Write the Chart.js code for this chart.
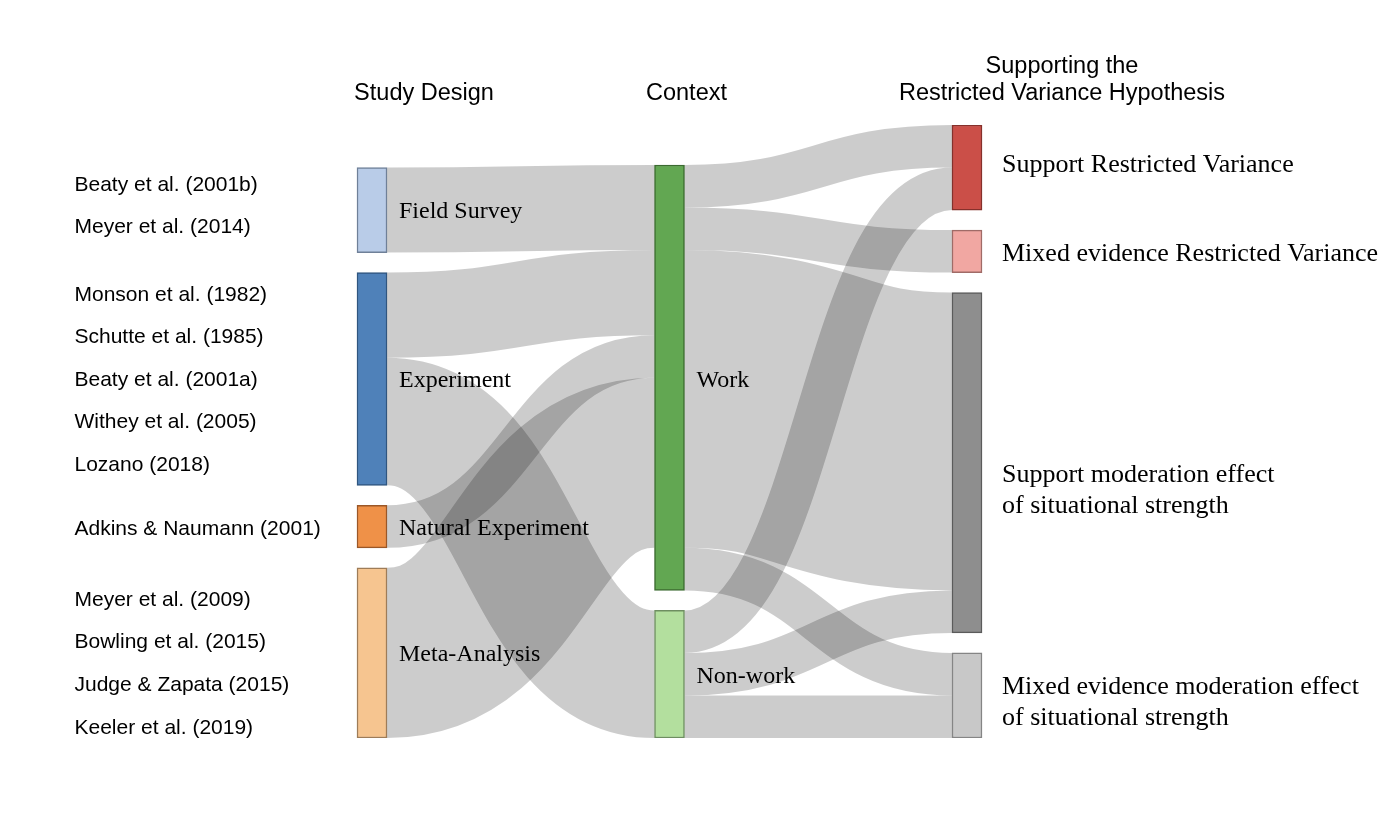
<!DOCTYPE html>
<html>
<head>
<meta charset="utf-8">
<script src="https://cdn.jsdelivr.net/npm/chart.js@4"></script>
<style>
  html, body { margin: 0; padding: 0; background: #fff; }
  canvas { display: block; }
</style>
</head>
<body>
<canvas id="sankey" width="1394" height="820"></canvas>
<script>
// column titles
const columnTitles = [["Study Design"], ["Context"], ["Supporting the", "Restricted Variance Hypothesis"]];

// nodes of each column, top to bottom
const designs = ["Field Survey", "Experiment", "Natural Experiment", "Meta-Analysis"];
const contexts = ["Work", "Non-work"];
const outcomes = [
  ["Support Restricted Variance"],
  ["Mixed evidence Restricted Variance"],
  ["Support moderation effect", "of situational strength"],
  ["Mixed evidence moderation effect", "of situational strength"]
];

// flows design -> context (rows = designs, cols = contexts)
const designToContext = [[2, 0], [2, 3], [1, 0], [4, 0]];
// flows context -> outcome (rows = contexts, cols = outcomes)
const contextToOutcome = [[1, 1, 7, 1], [1, 0, 1, 1]];

// studies listed beside each study design
const studies = [
  ["Beaty et al. (2001b)", "Meyer et al. (2014)"],
  ["Monson et al. (1982)", "Schutte et al. (1985)", "Beaty et al. (2001a)", "Withey et al. (2005)", "Lozano (2018)"],
  ["Adkins & Naumann (2001)"],
  ["Meyer et al. (2009)", "Bowling et al. (2015)", "Judge & Zapata (2015)", "Keeler et al. (2019)"]
];

// ---- styling ----
const nodeFill = [
  ["#b9cce8", "#4f81b9", "#ef9148", "#f6c590"],
  ["#62a752", "#b3df9e"],
  ["#cb4f48", "#f1a7a2", "#8e8e8e", "#c8c8c8"]
];
const nodeBorder = [
  ["#6f8098", "#2f557f", "#9b5727", "#9e7c58"],
  ["#3c6b31", "#6e8e61"],
  ["#86302b", "#a06b67", "#5b5b5b", "#858585"]
];
const NODE_W = 30;
const GAP = 0.47;            // vertical gap between nodes, in study units
const SERIF = '"Times New Roman", "Liberation Serif", serif';
const SANS = 'Arial, "Liberation Sans", sans-serif';
const labelSize = [24, 24, 26];
const labelShift = [[2, 2, 2, 2], [3, 3], [-2, 3, 28, 7]];
const studyShift = [-4, 1, 3, 11];
const titleShift = [52, 17, 95];

// ---- layout (in data units) ----
const columns = [designs, contexts, outcomes];
const flows = [designToContext, contextToOutcome];

const inSum = columns.map(c => c.map(() => 0));
const outSum = columns.map(c => c.map(() => 0));
flows.forEach((m, c) => {
  m.forEach((row, i) => row.forEach((v, j) => {
    outSum[c][i] += v;
    inSum[c + 1][j] += v;
  }));
});
const nodeVal = columns.map((c, ci) => c.map((_, i) => Math.max(inSum[ci][i], outSum[ci][i])));
const colHeight = nodeVal.map(vals => vals.reduce((a, b) => a + b, 0) + GAP * (vals.length - 1));
const yMax = Math.max(...colHeight);

// stack from the bottom, first node on top
const nodeTop = nodeVal.map((vals, ci) => {
  let top = colHeight[ci];
  return vals.map(v => { const t = top; top -= v + GAP; return t; });
});

const nodeData = [];
const fills = [];
const borders = [];
columns.forEach((col, ci) => col.forEach((_, i) => {
  nodeData.push({ x: ci, y: [nodeTop[ci][i] - nodeVal[ci][i], nodeTop[ci][i]] });
  fills.push(nodeFill[ci][i]);
  borders.push(nodeBorder[ci][i]);
}));

// links: ordered by target at the source, by source at the target
const links = [];
flows.forEach((m, c) => {
  const srcCursor = nodeTop[c].slice();
  const tgtCursor = nodeTop[c + 1].slice();
  const tgtOffsets = m.map(row => row.map(() => 0));
  m[0].forEach((_, j) => {
    m.forEach((row, i) => {
      tgtOffsets[i][j] = tgtCursor[j] - row[j] / 2;
      tgtCursor[j] -= row[j];
    });
  });
  m.forEach((row, i) => row.forEach((v, j) => {
    if (v > 0) links.push({ col: c, value: v, sy: srcCursor[i] - v / 2, ty: tgtOffsets[i][j] });
    srcCursor[i] -= v;
  }));
});

const linkPlugin = {
  id: "links",
  beforeDatasetsDraw(chart) {
    const { ctx, scales: { x, y } } = chart;
    const unit = y.getPixelForValue(0) - y.getPixelForValue(1);
    ctx.save();
    ctx.strokeStyle = "rgba(0,0,0,0.2)";
    ctx.lineCap = "butt";
    links.forEach(l => {
      const x0 = x.getPixelForValue(l.col) + NODE_W / 2;
      const x1 = x.getPixelForValue(l.col + 1) - NODE_W / 2;
      const y0 = y.getPixelForValue(l.sy);
      const y1 = y.getPixelForValue(l.ty);
      const xm = (x0 + x1) / 2;
      ctx.lineWidth = l.value * unit;
      ctx.beginPath();
      ctx.moveTo(x0, y0);
      ctx.bezierCurveTo(xm, y0, xm, y1, x1, y1);
      ctx.stroke();
    });
    ctx.restore();
  }
};

const labelPlugin = {
  id: "labels",
  afterDatasetsDraw(chart) {
    const { ctx, chartArea, scales: { x, y } } = chart;
    ctx.save();
    ctx.fillStyle = "#000";
    ctx.textBaseline = "middle";

    // node labels
    ctx.textAlign = "left";
    columns.forEach((col, ci) => col.forEach((name, i) => {
      ctx.font = labelSize[ci] + "px " + SERIF;
      const lines = Array.isArray(name) ? name : [name];
      const mid = y.getPixelForValue(nodeTop[ci][i] - nodeVal[ci][i] / 2) + labelShift[ci][i];
      const lx = x.getPixelForValue(ci) + NODE_W / 2 + (ci === 2 ? 20 : 12);
      lines.forEach((t, k) => {
        ctx.fillText(t, lx, mid + (k - (lines.length - 1) / 2) * 31.5);
      });
    }));

    // study names
    ctx.font = "21px " + SANS;
    studies.forEach((group, gi) => {
      group.forEach((s, k) => {
        const yy = y.getPixelForValue(nodeTop[0][gi] - k - 0.5) + studyShift[gi];
        ctx.fillText(s, chartArea.left, yy);
      });
    });

    // column titles
    ctx.font = "23.5px " + SANS;
    ctx.textAlign = "center";
    columnTitles.forEach((lines, ci) => {
      const cx = x.getPixelForValue(ci) + titleShift[ci];
      lines.forEach((t, k) => {
        ctx.fillText(t, cx, chartArea.top - 31.5 - (lines.length - 1 - k) * 27);
      });
    });
    ctx.restore();
  }
};

new Chart(document.getElementById("sankey"), {
  type: "bar",
  data: {
    datasets: [{
      data: nodeData,
      backgroundColor: fills,
      borderColor: borders,
      borderWidth: 1.5,
      borderSkipped: false,
      barThickness: NODE_W
    }]
  },
  options: {
    responsive: false,
    animation: false,
    layout: { padding: { left: 74.5, right: 129.5, top: 125, bottom: 82 } },
    scales: {
      x: { type: "linear", min: -1, max: 3, offset: false, display: false },
      y: { type: "linear", min: 0, max: yMax, display: false }
    },
    plugins: {
      legend: { display: false },
      tooltip: { enabled: false }
    }
  },
  plugins: [linkPlugin, labelPlugin]
});
</script>
</body>
</html>
